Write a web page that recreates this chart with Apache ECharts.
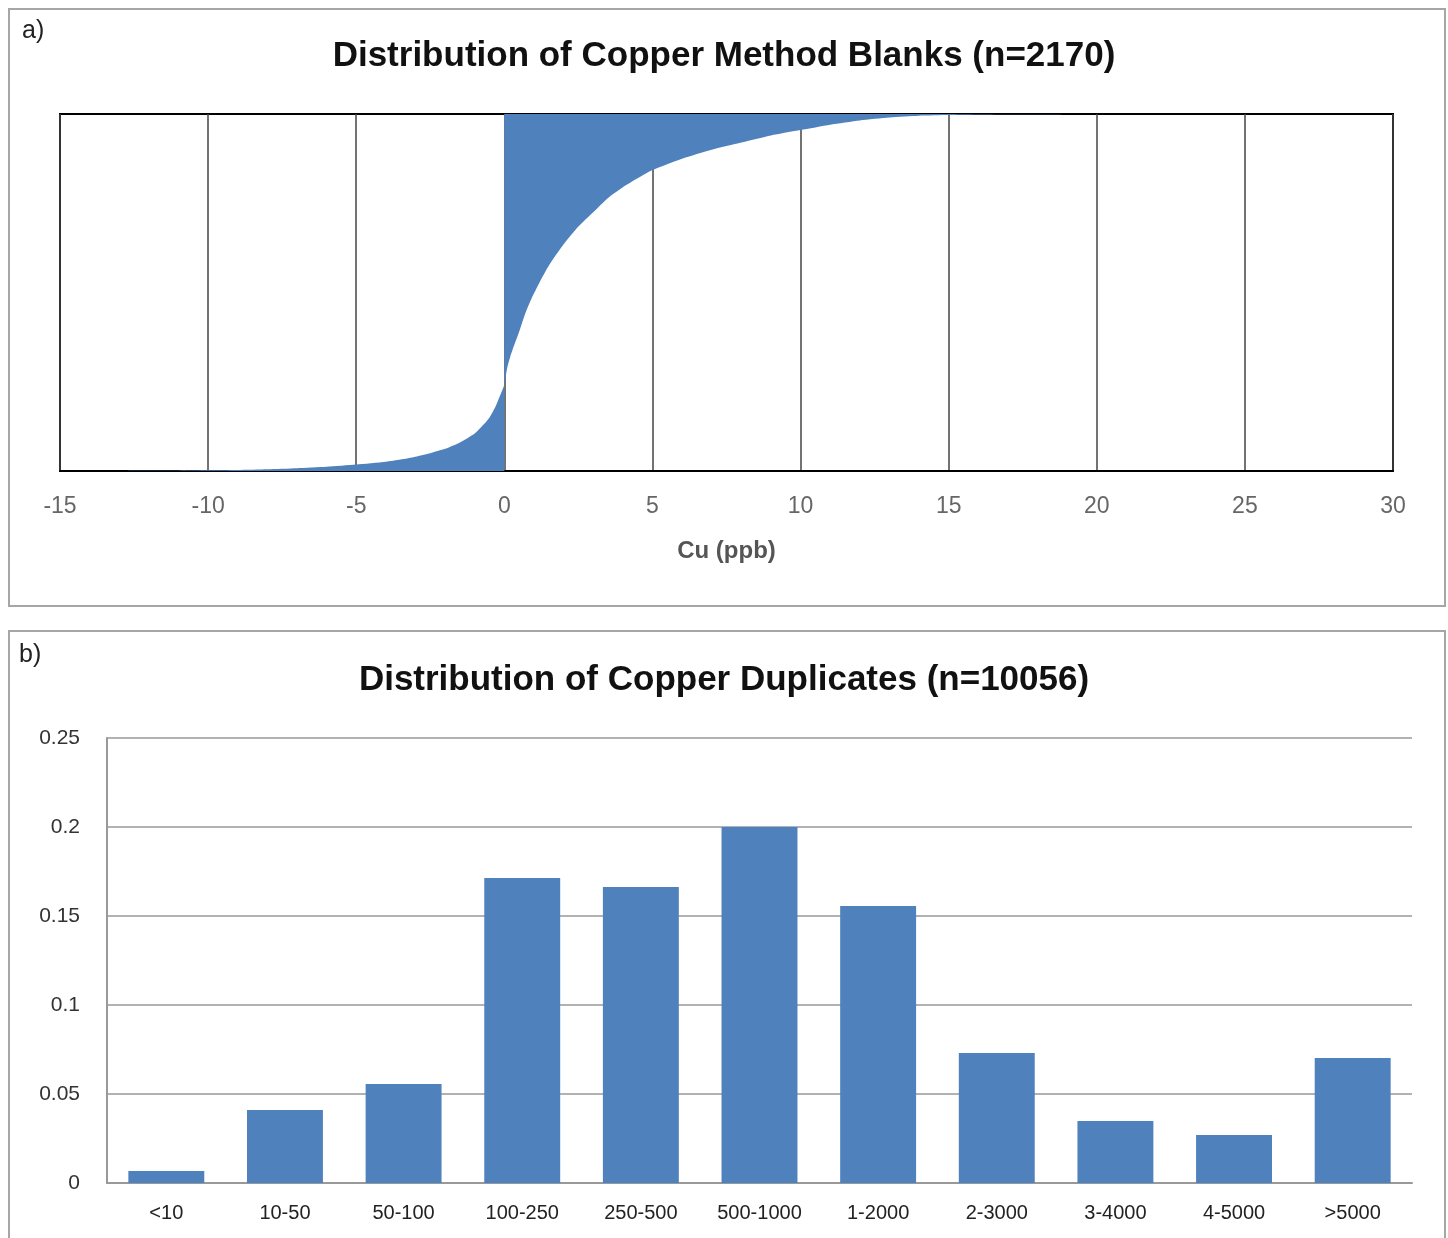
<!DOCTYPE html>
<html>
<head>
<meta charset="utf-8">
<script src="https://cdn.jsdelivr.net/npm/echarts@6/dist/echarts.min.js"></script>
<style>
html,body{margin:0;padding:0;background:#fff;}
#chart{width:1448px;height:1238px;}
</style>
</head>
<body>
<div id="chart"></div>
<script>
// Panel a: cumulative distribution of copper method blanks (Cu, ppb)
const blankXTicks = [-15, -10, -5, 0, 5, 10, 15, 20, 25, 30];
const blankNegative = [
  [-13, 0], [-12, 0.0005], [-11, 0.001], [-10, 0.002], [-9, 0.003], [-8, 0.005],
  [-7, 0.008], [-6, 0.012], [-5, 0.018], [-4, 0.026], [-3.5, 0.032], [-3, 0.04],
  [-2.5, 0.05], [-2, 0.062], [-1.5, 0.08], [-1, 0.105], [-0.7, 0.13], [-0.5, 0.15],
  [-0.3, 0.18], [-0.15, 0.21], [0, 0.24]
];
const blankPositive = [
  [0, 0.24], [0.1, 0.29], [0.2, 0.32], [0.3, 0.345], [0.5, 0.39], [0.7, 0.44],
  [0.9, 0.48], [1.2, 0.53], [1.5, 0.575], [2, 0.635], [2.5, 0.685], [3, 0.725],
  [3.5, 0.765], [4, 0.795], [4.5, 0.82], [5, 0.843], [6, 0.875], [7, 0.9],
  [8, 0.92], [9, 0.94], [10, 0.955], [11, 0.97], [12, 0.982], [13, 0.99],
  [14, 0.995], [15, 0.997], [17, 0.999], [20, 1]
];

// Panel b: distribution of copper duplicates
const dupCategories = ['<10', '10-50', '50-100', '100-250', '250-500', '500-1000',
  '1-2000', '2-3000', '3-4000', '4-5000', '>5000'];
const dupValues = [0.0067, 0.041, 0.0556, 0.1713, 0.1663, 0.2, 0.1556, 0.073, 0.0348, 0.027, 0.0702];

const chart = echarts.init(document.getElementById('chart'));
const blue = '#4F81BD';
const font = 'Liberation Sans, Arial, sans-serif';

chart.setOption({
  animation: false,
  backgroundColor: '#fff',
  title: [
    { text: 'Distribution of Copper Method Blanks (n=2170)', left: 'center', top: 34,
      textStyle: { fontFamily: font, fontSize: 35, fontWeight: 'bold', color: '#111' } },
    { text: 'Distribution of Copper Duplicates (n=10056)', left: 'center', top: 658,
      textStyle: { fontFamily: font, fontSize: 35, fontWeight: 'bold', color: '#111' } }
  ],
  graphic: [
    { type: 'rect', shape: { x: 9, y: 9, width: 1436, height: 597 },
      style: { fill: 'none', stroke: '#a6a6a6', lineWidth: 2 } },
    { type: 'rect', shape: { x: 9, y: 631, width: 1436, height: 620 },
      style: { fill: 'none', stroke: '#a6a6a6', lineWidth: 2 } },
    { type: 'text', left: 22, top: 19,
      style: { text: 'a)', fontFamily: font, fontSize: 25, fill: '#222' } },
    { type: 'text', left: 19, top: 643,
      style: { text: 'b)', fontFamily: font, fontSize: 25, fill: '#222' } }
  ],
  grid: [
    { left: 60, top: 114, width: 1333, height: 357, show: true, borderColor: '#000', borderWidth: 2, containLabel: false },
    { left: 107, top: 738, width: 1305, height: 445, containLabel: false }
  ],
  xAxis: [
    { gridIndex: 0, type: 'value', min: -15, max: 30, interval: 5,
      name: 'Cu (ppb)', nameLocation: 'middle', nameGap: 68,
      nameTextStyle: { fontFamily: font, fontSize: 24, fontWeight: 'bold', color: '#555' },
      axisLine: { show: true, lineStyle: { color: '#000', width: 2 } },
      axisTick: { show: false },
      axisLabel: { margin: 24, fontFamily: font, fontSize: 23, color: '#666',
        customValues: blankXTicks },
      splitLine: { show: true, lineStyle: { color: '#444', width: 1.5 } } },
    { gridIndex: 1, type: 'category', data: dupCategories,
      axisLine: { show: true, lineStyle: { color: '#999', width: 2 } },
      axisTick: { show: false },
      axisLabel: { margin: 20, fontFamily: font, fontSize: 20, color: '#222', interval: 0 },
      splitLine: { show: false } }
  ],
  yAxis: [
    { gridIndex: 0, type: 'value', min: 0, max: 1, show: false, splitLine: { show: false } },
    { gridIndex: 1, type: 'value', min: 0, max: 0.25, interval: 0.05,
      axisLine: { show: true, lineStyle: { color: '#999', width: 2 } },
      axisTick: { show: false },
      axisLabel: { margin: 27, fontFamily: font, fontSize: 21, color: '#333' },
      splitLine: { show: true, lineStyle: { color: '#999', width: 1.5 } } }
  ],
  series: [
    { type: 'line', xAxisIndex: 0, yAxisIndex: 0, data: blankNegative, smooth: 0.2,
      symbol: 'none', lineStyle: { width: 0 },
      areaStyle: { color: blue, opacity: 1, origin: 'start' } },
    { type: 'line', xAxisIndex: 0, yAxisIndex: 0, data: blankPositive, smooth: 0.2,
      symbol: 'none', lineStyle: { width: 0 },
      areaStyle: { color: blue, opacity: 1, origin: 'end' } },
    { type: 'bar', xAxisIndex: 1, yAxisIndex: 1, data: dupValues, barCategoryGap: '36%',
      itemStyle: { color: blue } }
  ]
});
</script>
</body>
</html>
